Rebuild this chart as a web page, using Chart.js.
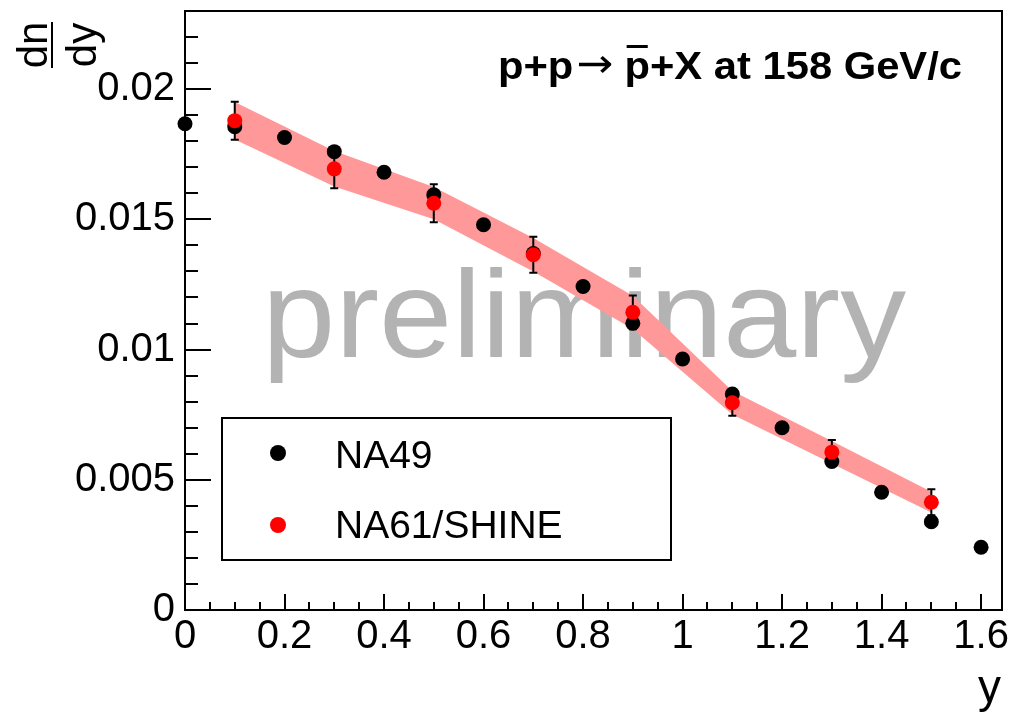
<!DOCTYPE html>
<html>
<head>
<meta charset="utf-8">
<script src="https://cdn.jsdelivr.net/npm/chart.js@4.4.1/dist/chart.umd.min.js"></script>
<style>
  html, body { margin: 0; padding: 0; background: #fff; }
  canvas { display: block; }
</style>
</head>
<body>
<canvas id="chart" width="1012" height="716"></canvas>
<script>
const family = '"Liberation Sans", Arial, Helvetica, sans-serif';

// NA49 points (rapidity, dn/dy)
const rapidity49 = [0, 0.1, 0.2, 0.3, 0.4, 0.5, 0.6, 0.7, 0.8, 0.9, 1.0, 1.1, 1.2, 1.3, 1.4, 1.5, 1.6];
const na49 = [0.01867, 0.01856, 0.01814, 0.01760, 0.01681, 0.01594, 0.01479, 0.01369, 0.01242, 0.01101,
              0.00964, 0.00829, 0.00700, 0.00570, 0.00452, 0.00339, 0.00241];

// NA61/SHINE points, stat. errors and syst. band half-width
const rapidity61 = [0.1, 0.3, 0.5, 0.7, 0.9, 1.1, 1.3, 1.5];
const na61 = [0.01879, 0.01694, 0.01562, 0.01364, 0.01143, 0.00796, 0.00606, 0.00414];
const na61Stat = [0.00073, 0.00075, 0.00073, 0.00069, 0.00065, 0.00050, 0.00047, 0.00050];
const na61Sys = [0.00072, 0.00068, 0.00062, 0.00064, 0.00064, 0.00045, 0.00043, 0.00040];

const xTicks = { min: 0, max: 1.642, major: 0.2, minor: 0.05 };
const yTicks = { min: 0, max: 0.023, major: 0.005, minor: 0.001 };

const bandColor = 'rgb(255,153,153)';

function drawTicks(ctx, scale, step, len, vertical, a) {
  const n = Math.round((scale.max - scale.min) / step);
  for (let i = 0; i <= n; i++) {
    const v = scale.min + i * step;
    if (v > scale.max + 1e-9) break;
    const p = Math.round(scale.getPixelForValue(v));
    ctx.beginPath();
    if (vertical) { ctx.moveTo(a.left, p); ctx.lineTo(a.left + len, p); }
    else { ctx.moveTo(p, a.bottom); ctx.lineTo(p, a.bottom - len); }
    ctx.stroke();
  }
}

const rootStyle = {
  id: 'rootStyle',
  beforeDatasetsDraw(chart) {
    const { ctx, chartArea: a, scales: { x, y } } = chart;
    // watermark
    ctx.save();
    ctx.font = `124px ${family}`;
    ctx.fillStyle = '#b3b3b3';
    const w = ctx.measureText('preliminary').width;
    ctx.translate(262, 357);
    ctx.scale(644 / w, 1);
    ctx.fillText('preliminary', 0, 0);
    ctx.restore();

    // frame and inward ticks
    ctx.save();
    ctx.strokeStyle = '#000';
    ctx.lineWidth = 2;
    ctx.strokeRect(a.left, a.top, a.right - a.left, a.bottom - a.top);
    drawTicks(ctx, y, yTicks.minor, 13, true, a);
    drawTicks(ctx, y, yTicks.major, 26, true, a);
    drawTicks(ctx, x, xTicks.minor, 8, false, a);
    drawTicks(ctx, x, xTicks.major, 16, false, a);
    ctx.restore();
  },
  beforeDatasetDraw(chart, args) {
    if (args.index !== 2) return;
    const { ctx, scales: { x, y } } = chart;
    ctx.save();
    ctx.strokeStyle = '#000';
    ctx.lineWidth = 2;
    rapidity61.forEach((r, i) => {
      const px = x.getPixelForValue(r);
      const hi = y.getPixelForValue(na61[i] + na61Stat[i]);
      const lo = y.getPixelForValue(na61[i] - na61Stat[i]);
      ctx.beginPath();
      ctx.moveTo(px, hi); ctx.lineTo(px, lo);
      ctx.moveTo(px - 4, hi); ctx.lineTo(px + 4, hi);
      ctx.moveTo(px - 4, lo); ctx.lineTo(px + 4, lo);
      ctx.stroke();
    });
    ctx.restore();
  },
  afterDatasetsDraw(chart) {
    const { ctx } = chart;
    ctx.save();
    // legend
    ctx.strokeStyle = '#000';
    ctx.lineWidth = 2;
    ctx.strokeRect(222, 418, 449, 142);
    ctx.fillStyle = '#000';
    ctx.beginPath(); ctx.arc(278, 453, 8, 0, Math.PI * 2); ctx.fill();
    ctx.fillStyle = '#ff0000';
    ctx.beginPath(); ctx.arc(278, 525, 8, 0, Math.PI * 2); ctx.fill();
    ctx.fillStyle = '#000';
    ctx.font = `39px ${family}`;
    ctx.fillText(chart.data.datasets[2].label, 335, 468);
    ctx.fillText(chart.data.datasets[3].label, 335, 538);

    // title: p+p -> pbar+X at 158 GeV/c
    const bold = `bold 38px ${family}`;
    const arrowFont = `40px "DejaVu Sans", sans-serif`;
    const parts = [
      { t: 'p+p', f: bold, gap: 3 },
      { t: '\u2192', f: arrowFont, gap: 10 },
      { t: 'p', f: bold, gap: 0, bar: true },
      { t: '+X at 158 GeV/c', f: bold, gap: 0 }
    ];
    parts.forEach(p => { ctx.font = p.f; p.w = ctx.measureText(p.t).width; });
    const total = parts.reduce((s, p) => s + p.w + p.gap, 0);
    ctx.translate(498, 79);
    ctx.scale(464 / total, 1);
    let cx = 0;
    parts.forEach(p => {
      ctx.font = p.f;
      ctx.fillText(p.t, cx, p.t === '\u2192' ? -2 : 0);
      if (p.bar) ctx.fillRect(cx + 2, -34, p.w - 4, 3);
      cx += p.w + p.gap;
    });
    ctx.restore();

    // axis titles
    ctx.save();
    ctx.fillStyle = '#000';
    ctx.font = `46px ${family}`;
    ctx.textAlign = 'right';
    ctx.fillText('y', 1001, 702);
    ctx.translate(52, 45);
    ctx.rotate(-Math.PI / 2);
    ctx.font = `42px ${family}`;
    ctx.textAlign = 'center';
    ctx.fillText('dn', 0, -5);
    ctx.fillText('dy', 0, 44);
    ctx.fillRect(-23, -1, 46, 2);
    ctx.restore();
  }
};

new Chart(document.getElementById('chart'), {
  type: 'scatter',
  data: {
    datasets: [
      {
        label: 'sys low',
        data: rapidity61.map((r, i) => ({ x: r, y: na61[i] - na61Sys[i] })),
        showLine: true,
        borderColor: 'transparent',
        borderWidth: 0,
        pointRadius: 0,
        tension: 0,
        order: 4
      },
      {
        label: 'sys high',
        data: rapidity61.map((r, i) => ({ x: r, y: na61[i] + na61Sys[i] })),
        showLine: true,
        borderColor: 'transparent',
        borderWidth: 0,
        backgroundColor: bandColor,
        fill: '-1',
        pointRadius: 0,
        tension: 0,
        order: 3
      },
      {
        label: 'NA49',
        data: rapidity49.map((r, i) => ({ x: r, y: na49[i] })),
        backgroundColor: '#000',
        borderWidth: 0,
        pointRadius: 7.5,
        clip: false,
        order: 2
      },
      {
        label: 'NA61/SHINE',
        data: rapidity61.map((r, i) => ({ x: r, y: na61[i] })),
        backgroundColor: '#ff0000',
        borderWidth: 0,
        pointRadius: 7.5,
        clip: false,
        order: 1
      }
    ]
  },
  options: {
    responsive: false,
    animation: false,
    events: [],
    layout: { padding: { top: 11, right: 10, bottom: 0, left: 0 } },
    plugins: {
      legend: { display: false },
      tooltip: { enabled: false },
      filler: { propagate: false }
    },
    scales: {
      x: {
        type: 'linear',
        min: xTicks.min,
        max: xTicks.max,
        grid: { display: false, drawTicks: false },
        border: { display: false },
        ticks: {
          stepSize: xTicks.major,
          includeBounds: false,
          autoSkip: false,
          maxRotation: 0,
          padding: 3,
          color: '#000',
          font: { size: 40, family },
          callback: (v) => String(+v.toFixed(1))
        },
        afterFit: (s) => { s.height = 106; s.paddingLeft = 0; s.paddingRight = 0; }
      },
      y: {
        type: 'linear',
        min: yTicks.min,
        max: yTicks.max,
        grid: { display: false, drawTicks: false },
        border: { display: false },
        ticks: {
          stepSize: yTicks.major,
          includeBounds: false,
          padding: 10,
          color: '#000',
          font: { size: 40, family },
          callback: (v) => v === 0 ? '0' : String(+v.toFixed(3))
        },
        afterFit: (s) => { s.width = 185; s.paddingTop = 0; s.paddingBottom = 0; }
      }
    }
  },
  plugins: [rootStyle]
});
</script>
</body>
</html>
